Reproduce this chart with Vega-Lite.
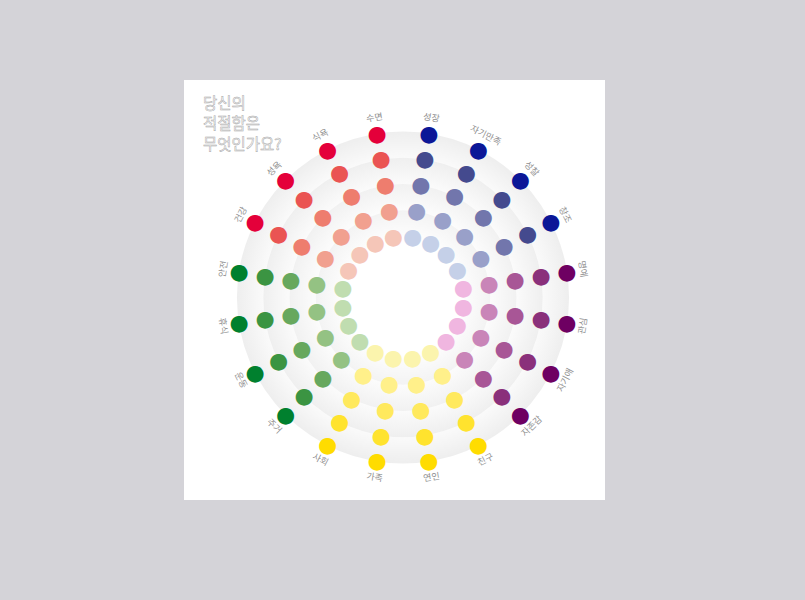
{
"$schema":"https://vega.github.io/schema/vega-lite/v6.json",
"width":421,"height":420,
"autosize":{"type":"none"},
"padding":{"left":184,"top":80,"right":200,"bottom":100},
"background":"#d4d3d8",
"config":{"view":{"fill":"white","stroke":null}},
"data":{"values":[
{"c":"성장","g":"blue","o":0,"l":1},{"c":"성장","g":"blue","o":0,"l":2},{"c":"성장","g":"blue","o":0,"l":3},{"c":"성장","g":"blue","o":0,"l":4},{"c":"성장","g":"blue","o":0,"l":5},
{"c":"자기만족","g":"blue","o":1,"l":1},{"c":"자기만족","g":"blue","o":1,"l":2},{"c":"자기만족","g":"blue","o":1,"l":3},{"c":"자기만족","g":"blue","o":1,"l":4},{"c":"자기만족","g":"blue","o":1,"l":5},
{"c":"성찰","g":"blue","o":2,"l":1},{"c":"성찰","g":"blue","o":2,"l":2},{"c":"성찰","g":"blue","o":2,"l":3},{"c":"성찰","g":"blue","o":2,"l":4},{"c":"성찰","g":"blue","o":2,"l":5},
{"c":"창조","g":"blue","o":3,"l":1},{"c":"창조","g":"blue","o":3,"l":2},{"c":"창조","g":"blue","o":3,"l":3},{"c":"창조","g":"blue","o":3,"l":4},{"c":"창조","g":"blue","o":3,"l":5},
{"c":"명예","g":"purple","o":4,"l":1},{"c":"명예","g":"purple","o":4,"l":2},{"c":"명예","g":"purple","o":4,"l":3},{"c":"명예","g":"purple","o":4,"l":4},{"c":"명예","g":"purple","o":4,"l":5},
{"c":"관심","g":"purple","o":5,"l":1},{"c":"관심","g":"purple","o":5,"l":2},{"c":"관심","g":"purple","o":5,"l":3},{"c":"관심","g":"purple","o":5,"l":4},{"c":"관심","g":"purple","o":5,"l":5},
{"c":"자기애","g":"purple","o":6,"l":1},{"c":"자기애","g":"purple","o":6,"l":2},{"c":"자기애","g":"purple","o":6,"l":3},{"c":"자기애","g":"purple","o":6,"l":4},{"c":"자기애","g":"purple","o":6,"l":5},
{"c":"자존감","g":"purple","o":7,"l":1},{"c":"자존감","g":"purple","o":7,"l":2},{"c":"자존감","g":"purple","o":7,"l":3},{"c":"자존감","g":"purple","o":7,"l":4},{"c":"자존감","g":"purple","o":7,"l":5},
{"c":"친구","g":"yellow","o":8,"l":1},{"c":"친구","g":"yellow","o":8,"l":2},{"c":"친구","g":"yellow","o":8,"l":3},{"c":"친구","g":"yellow","o":8,"l":4},{"c":"친구","g":"yellow","o":8,"l":5},
{"c":"연인","g":"yellow","o":9,"l":1},{"c":"연인","g":"yellow","o":9,"l":2},{"c":"연인","g":"yellow","o":9,"l":3},{"c":"연인","g":"yellow","o":9,"l":4},{"c":"연인","g":"yellow","o":9,"l":5},
{"c":"가족","g":"yellow","o":10,"l":1},{"c":"가족","g":"yellow","o":10,"l":2},{"c":"가족","g":"yellow","o":10,"l":3},{"c":"가족","g":"yellow","o":10,"l":4},{"c":"가족","g":"yellow","o":10,"l":5},
{"c":"사회","g":"yellow","o":11,"l":1},{"c":"사회","g":"yellow","o":11,"l":2},{"c":"사회","g":"yellow","o":11,"l":3},{"c":"사회","g":"yellow","o":11,"l":4},{"c":"사회","g":"yellow","o":11,"l":5},
{"c":"주거","g":"green","o":12,"l":1},{"c":"주거","g":"green","o":12,"l":2},{"c":"주거","g":"green","o":12,"l":3},{"c":"주거","g":"green","o":12,"l":4},{"c":"주거","g":"green","o":12,"l":5},
{"c":"운동","g":"green","o":13,"l":1},{"c":"운동","g":"green","o":13,"l":2},{"c":"운동","g":"green","o":13,"l":3},{"c":"운동","g":"green","o":13,"l":4},{"c":"운동","g":"green","o":13,"l":5},
{"c":"휴식","g":"green","o":14,"l":1},{"c":"휴식","g":"green","o":14,"l":2},{"c":"휴식","g":"green","o":14,"l":3},{"c":"휴식","g":"green","o":14,"l":4},{"c":"휴식","g":"green","o":14,"l":5},
{"c":"안전","g":"green","o":15,"l":1},{"c":"안전","g":"green","o":15,"l":2},{"c":"안전","g":"green","o":15,"l":3},{"c":"안전","g":"green","o":15,"l":4},{"c":"안전","g":"green","o":15,"l":5},
{"c":"건강","g":"red","o":16,"l":1},{"c":"건강","g":"red","o":16,"l":2},{"c":"건강","g":"red","o":16,"l":3},{"c":"건강","g":"red","o":16,"l":4},{"c":"건강","g":"red","o":16,"l":5},
{"c":"성욕","g":"red","o":17,"l":1},{"c":"성욕","g":"red","o":17,"l":2},{"c":"성욕","g":"red","o":17,"l":3},{"c":"성욕","g":"red","o":17,"l":4},{"c":"성욕","g":"red","o":17,"l":5},
{"c":"식욕","g":"red","o":18,"l":1},{"c":"식욕","g":"red","o":18,"l":2},{"c":"식욕","g":"red","o":18,"l":3},{"c":"식욕","g":"red","o":18,"l":4},{"c":"식욕","g":"red","o":18,"l":5},
{"c":"수면","g":"red","o":19,"l":1},{"c":"수면","g":"red","o":19,"l":2},{"c":"수면","g":"red","o":19,"l":3},{"c":"수면","g":"red","o":19,"l":4},{"c":"수면","g":"red","o":19,"l":5}
]},
"encoding":{
"x":{"datum":0,"type":"quantitative","scale":{"domain":[-219,202],"nice":false,"zero":false},"axis":null},
"y":{"datum":0,"type":"quantitative","scale":{"domain":[-202.5,217.5],"nice":false,"zero":false},"axis":null}
},
"layer":[
{"data":{"values":[{"r0":4,"r1":5}]},"mark":{"type":"arc","theta":0,"theta2":6.2832,"fill":{"gradient":"radial","x1":0.5,"y1":0.5,"r1":0.42,"x2":0.5,"y2":0.5,"r2":0.5,"stops":[{"offset":0,"color":"#fafafa"},{"offset":1,"color":"#eeeeee"}]}},
 "encoding":{"radius":{"field":"r1","type":"quantitative","scale":{"type":"linear","domain":[1,5],"range":[61,166],"zero":false,"nice":false}},"radius2":{"field":"r0"}}},
{"data":{"values":[{"r0":3,"r1":4}]},"mark":{"type":"arc","theta":0,"theta2":6.2832,"fill":{"gradient":"radial","x1":0.5,"y1":0.5,"r1":0.405,"x2":0.5,"y2":0.5,"r2":0.5,"stops":[{"offset":0,"color":"#fbfbfb"},{"offset":1,"color":"#efefef"}]}},
 "encoding":{"radius":{"field":"r1","type":"quantitative","scale":{"type":"linear","domain":[1,5],"range":[61,166],"zero":false,"nice":false}},"radius2":{"field":"r0"}}},
{"data":{"values":[{"r0":2,"r1":3}]},"mark":{"type":"arc","theta":0,"theta2":6.2832,"fill":{"gradient":"radial","x1":0.5,"y1":0.5,"r1":0.383,"x2":0.5,"y2":0.5,"r2":0.5,"stops":[{"offset":0,"color":"#fcfcfc"},{"offset":1,"color":"#f1f1f1"}]}},
 "encoding":{"radius":{"field":"r1","type":"quantitative","scale":{"type":"linear","domain":[1,5],"range":[61,166],"zero":false,"nice":false}},"radius2":{"field":"r0"}}},
{"data":{"values":[{"r0":1,"r1":2}]},"mark":{"type":"arc","theta":0,"theta2":6.2832,"fill":{"gradient":"radial","x1":0.5,"y1":0.5,"r1":0.351,"x2":0.5,"y2":0.5,"r2":0.5,"stops":[{"offset":0,"color":"#fdfdfd"},{"offset":1,"color":"#f3f3f3"}]}},
 "encoding":{"radius":{"field":"r1","type":"quantitative","scale":{"type":"linear","domain":[1,5],"range":[61,166],"zero":false,"nice":false}},"radius2":{"field":"r0"}}},
{"transform":[{"filter":"datum.g==='red'"}],"mark":{"type":"text","text":"●","font":"DejaVu Sans","fontSize":22,"align":"center","baseline":"middle"},
 "encoding":{"theta":{"field":"o","type":"quantitative","scale":{"domain":[-0.5,19.5],"zero":false,"nice":false}},"radius":{"field":"l","type":"quantitative","scale":{"type":"linear","domain":[1,5],"range":[61,166],"zero":false,"nice":false}},
 "color":{"field":"l","type":"ordinal","scale":{"domain":[1,2,3,4,5],"range":["#f5c6b8","#f1a08f","#ee7d6e","#ea5453","#e4003a"]},"legend":null}}},
{"transform":[{"filter":"datum.g==='blue'"}],"mark":{"type":"text","text":"●","font":"DejaVu Sans","fontSize":22,"align":"center","baseline":"middle"},
 "encoding":{"theta":{"field":"o","type":"quantitative","scale":{"domain":[-0.5,19.5],"zero":false,"nice":false}},"radius":{"field":"l","type":"quantitative","scale":{"type":"linear","domain":[1,5],"range":[61,166],"zero":false,"nice":false}},
 "color":{"field":"l","type":"ordinal","scale":{"domain":[1,2,3,4,5],"range":["#c5d0e8","#99a0c9","#7276ac","#444a8e","#0c1797"]},"legend":null}}},
{"transform":[{"filter":"datum.g==='purple'"}],"mark":{"type":"text","text":"●","font":"DejaVu Sans","fontSize":22,"align":"center","baseline":"middle"},
 "encoding":{"theta":{"field":"o","type":"quantitative","scale":{"domain":[-0.5,19.5],"zero":false,"nice":false}},"radius":{"field":"l","type":"quantitative","scale":{"type":"linear","domain":[1,5],"range":[61,166],"zero":false,"nice":false}},
 "color":{"field":"l","type":"ordinal","scale":{"domain":[1,2,3,4,5],"range":["#f0b6e0","#c985b8","#a85696","#8a307b","#6e0062"]},"legend":null}}},
{"transform":[{"filter":"datum.g==='yellow'"}],"mark":{"type":"text","text":"●","font":"DejaVu Sans","fontSize":22,"align":"center","baseline":"middle"},
 "encoding":{"theta":{"field":"o","type":"quantitative","scale":{"domain":[-0.5,19.5],"zero":false,"nice":false}},"radius":{"field":"l","type":"quantitative","scale":{"type":"linear","domain":[1,5],"range":[61,166],"zero":false,"nice":false}},
 "color":{"field":"l","type":"ordinal","scale":{"domain":[1,2,3,4,5],"range":["#fbf4ad","#fff08a","#ffe95d","#ffe32e","#ffdc00"]},"legend":null}}},
{"transform":[{"filter":"datum.g==='green'"}],"mark":{"type":"text","text":"●","font":"DejaVu Sans","fontSize":22,"align":"center","baseline":"middle"},
 "encoding":{"theta":{"field":"o","type":"quantitative","scale":{"domain":[-0.5,19.5],"zero":false,"nice":false}},"radius":{"field":"l","type":"quantitative","scale":{"type":"linear","domain":[1,5],"range":[61,166],"zero":false,"nice":false}},
 "color":{"field":"l","type":"ordinal","scale":{"domain":[1,2,3,4,5],"range":["#c0ddb0","#94c283","#67a85e","#3b9442","#00802e"]},"legend":null}}},
{"transform":[{"filter":"datum.l===5 && (datum.o<=4 || datum.o>=15)"}],"mark":{"type":"text","radius":182,"font":"Noto Sans CJK KR","fontSize":9,"fill":"#909090","align":"center","baseline":"middle"},
 "encoding":{"theta":{"field":"o","type":"quantitative","scale":{"domain":[-0.5,19.5],"zero":false,"nice":false}},"text":{"field":"c"},
 "angle":{"field":"o","type":"quantitative","scale":{"domain":[-0.5,19.5],"range":[0,360],"zero":false,"nice":false}}}},
{"transform":[{"filter":"datum.l===5 && datum.o>=5 && datum.o<=14"}],"mark":{"type":"text","radius":182,"font":"Noto Sans CJK KR","fontSize":9,"fill":"#909090","align":"center","baseline":"middle"},
 "encoding":{"theta":{"field":"o","type":"quantitative","scale":{"domain":[-0.5,19.5],"zero":false,"nice":false}},"text":{"field":"c"},
 "angle":{"field":"o","type":"quantitative","scale":{"domain":[-0.5,19.5],"range":[-180,180],"zero":false,"nice":false}}}},
{"data":{"values":[{"t":["당신의","적절함은","무엇인가요?"]}]},"mark":{"type":"text","align":"left","baseline":"top","font":"Noto Sans CJK KR","fontSize":15.5,"lineHeight":20.5,"fill":"white","stroke":"#a6a6a6","strokeWidth":0.5},
 "encoding":{"x":{"datum":-200,"type":"quantitative","scale":{"domain":[-219,202],"nice":false,"zero":false},"axis":null},"y":{"datum":201,"type":"quantitative","scale":{"domain":[-202.5,217.5],"nice":false,"zero":false},"axis":null},"text":{"field":"t"}}}
],
"resolve":{"scale":{"color":"independent","angle":"independent"}}
}
